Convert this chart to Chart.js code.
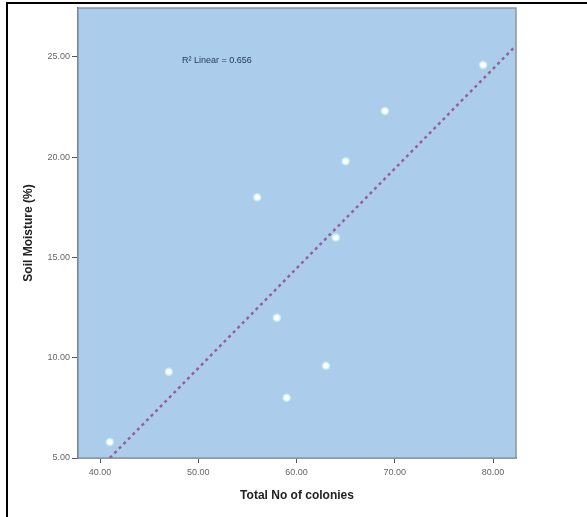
<!DOCTYPE html>
<html>
<head>
    <title>Soil Moisture vs Total No of colonies</title>
    <script src="https://cdn.jsdelivr.net/npm/chart.js"></script>
    <style>
        body {
            margin: 0;
            background: #ffffff;
        }

        .wrap {
            position: relative;
            width: 587px;
            height: 517px;
            overflow: hidden;
        }

        .frame {
            position: absolute;
            left: 6px;
            top: 2px;
            right: -4px;
            bottom: -4px;
            border-top: 2px solid #000;
            border-left: 2px solid #000;
        }

        canvas {
            position: absolute;
            left: 0;
            top: 0;
        }
    </style>
</head>
<body>
<div class="wrap">
    <div class="frame"></div>
    <canvas id="scatterChart" width="587" height="517"></canvas>
</div>

<script>
    // data
    const colonies = [41, 47, 56, 58, 59, 63, 64, 65, 69, 79];
    const moisture = [5.8, 9.3, 18.0, 12.0, 8.0, 9.6, 16.0, 19.8, 22.3, 24.6];

    // fit line end points (as drawn)
    const fitX = [41.0, 82.3];
    const fitY = [5.0, 25.55];

    const xTicks = [40, 50, 60, 70, 80];
    const yTicks = [5, 10, 15, 20, 25];

    const r2Label = 'R\u00b2 Linear = 0.656';
    const r2At = [48.35, 24.8];

    const plotBg = '#abcdeb';

    // paint plot background + frame, and the R² label
    const plotDecor = {
        id: 'plotDecor',
        beforeDatasetsDraw(chart) {
            const {ctx, chartArea: a} = chart;
            ctx.save();
            ctx.fillStyle = plotBg;
            ctx.fillRect(a.left, a.top, a.right - a.left, a.bottom - a.top);
            ctx.strokeStyle = '#8a96a2';
            ctx.lineWidth = 1.5;
            ctx.strokeRect(a.left, a.top, a.right - a.left, a.bottom - a.top);
            ctx.restore();
        },
        afterDatasetsDraw(chart) {
            const {ctx, scales} = chart;
            ctx.save();
            ctx.font = '9px "Liberation Sans", Arial, sans-serif';
            ctx.fillStyle = '#1f3558';
            ctx.textAlign = 'left';
            ctx.textBaseline = 'middle';
            ctx.fillText(r2Label, scales.x.getPixelForValue(r2At[0]), scales.y.getPixelForValue(r2At[1]));
            ctx.restore();
        }
    };

    const ctx = document.getElementById('scatterChart').getContext('2d');

    new Chart(ctx, {
        type: 'scatter',
        data: {
            datasets: [
                {
                    label: 'Fit',
                    type: 'line',
                    data: fitX.map((x, i) => ({x: x, y: fitY[i]})),
                    borderColor: '#97609a',
                    borderWidth: 2.5,
                    borderDash: [3, 3.5],
                    pointRadius: 0,
                    fill: false,
                    order: 2
                },
                {
                    label: 'Soil Moisture',
                    data: colonies.map((x, i) => ({x: x, y: moisture[i]})),
                    backgroundColor: '#ffffff',
                    borderColor: '#c6efe6',
                    borderWidth: 1.5,
                    pointRadius: 3.5,
                    order: 1
                }
            ]
        },
        options: {
            responsive: false,
            animation: false,
            layout: {
                padding: {top: 8, right: 71, bottom: 0, left: 0}
            },
            plugins: {
                legend: {display: false},
                tooltip: {enabled: false}
            },
            scales: {
                x: {
                    type: 'linear',
                    min: 37.76,
                    max: 82.34,
                    afterBuildTicks: s => { s.ticks = xTicks.map(v => ({value: v})); },
                    afterFit: s => { s.height = 59; },
                    border: {display: true, color: '#4a5868', width: 1.5},
                    grid: {
                        drawOnChartArea: false,
                        drawTicks: true,
                        tickLength: 5,
                        color: '#4a5868'
                    },
                    ticks: {
                        padding: 4,
                        color: '#666',
                        font: {family: '"Liberation Sans", Arial, sans-serif', size: 9},
                        callback: v => Number(v).toFixed(2)
                    },
                    title: {
                        display: true,
                        text: 'Total No of colonies',
                        color: '#222',
                        font: {family: '"Liberation Sans", Arial, sans-serif', size: 12, weight: 'bold'},
                        padding: {top: 0, bottom: 14}
                    }
                },
                y: {
                    type: 'linear',
                    min: 5,
                    max: 27.44,
                    afterBuildTicks: s => { s.ticks = yTicks.map(v => ({value: v})); },
                    afterFit: s => { s.width = 78; },
                    border: {display: true, color: '#4a5868', width: 1.5},
                    grid: {
                        drawOnChartArea: false,
                        drawTicks: true,
                        tickLength: 6,
                        color: '#4a5868'
                    },
                    ticks: {
                        padding: 2,
                        color: '#666',
                        font: {family: '"Liberation Sans", Arial, sans-serif', size: 9},
                        callback: v => Number(v).toFixed(2)
                    },
                    title: {
                        display: true,
                        text: 'Soil Moisture (%)',
                        color: '#222',
                        font: {family: '"Liberation Sans", Arial, sans-serif', size: 12, weight: 'bold'},
                        padding: {top: 21, bottom: 0}
                    }
                }
            }
        },
        plugins: [plotDecor]
    });
</script>
</body>
</html>
